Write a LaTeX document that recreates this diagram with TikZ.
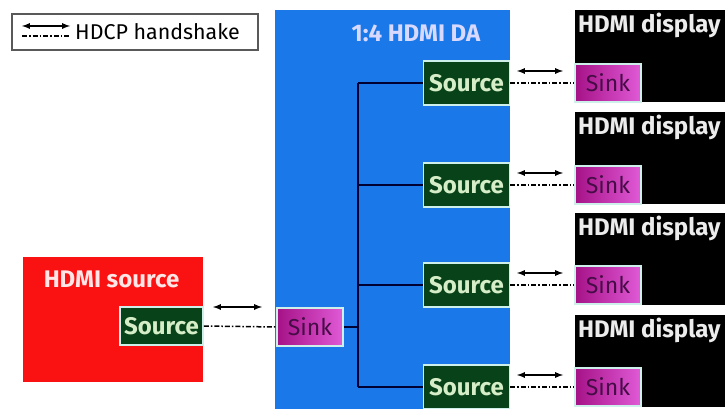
\documentclass[tikz,border=0pt]{standalone}
\usepackage{fontspec}
\setmainfont{Fira Sans}
\usetikzlibrary{arrows,positioning}

\definecolor{daBlue}{RGB}{26,120,232}
\definecolor{srcRed}{RGB}{250,18,18}
\definecolor{srcGreen}{RGB}{8,66,24}
\definecolor{srcText}{RGB}{214,238,200}
\definecolor{boxEdge}{RGB}{205,240,235}
\definecolor{sinkDark}{RGB}{165,18,135}
\definecolor{sinkLight}{RGB}{225,90,215}
\definecolor{sinkText}{RGB}{70,12,70}

\tikzset{
  srcbox/.style={draw=boxEdge,line width=1.6pt,fill=srcGreen,text=srcText,
    font=\fontsize{24}{24}\selectfont\bfseries,inner sep=0pt,
    minimum width=86pt,minimum height=44pt},
  sinkbox/.style={draw=boxEdge,line width=1.2pt,left color=sinkDark,right color=sinkLight,
    text=sinkText,font=\fontsize{23}{23}\selectfont,inner sep=0pt,
    minimum width=66pt,minimum height=38pt},
  label/.style={font=\fontsize{24}{24}\selectfont\bfseries,inner sep=0pt},
  handshake/.style={line width=1.5pt,dash pattern=on 5pt off 2pt on 1.5pt off 2pt},
  shakearrow/.style={latex-latex,line width=1.7pt}
}

\begin{document}
\begin{tikzpicture}[x=1pt,y=1pt]
  \useasboundingbox[fill=white] (0,0) rectangle (725,409);

  % legend
  \draw[gray!70!black,line width=1.5pt] (12,359) rectangle (258,395);
  \draw[shakearrow] (22,383) -- (70,383);
  \draw[handshake] (22,373) -- (70,373);
  \node[anchor=base west,inner sep=0pt,font=\fontsize{21.4}{21.4}\selectfont] (legend) at (75,369) {HDCP handshake};

  % source device
  \fill[srcRed] (23,27) rectangle (203,152);
  \node[label,text=white!90!red,anchor=base] (hdmisrc) at (111.5,121) {HDMI source};
  \node[srcbox,minimum width=83pt,minimum height=38pt] (src) at (161.5,83) {Source};

  % distribution amplifier
  \fill[daBlue] (275,0) rectangle (510,399);
  \node[label,text=white!85!blue,anchor=base] (datitle) at (416,367) {1:4 HDMI DA};
  \node[sinkbox] (dasink) at (310,82) {Sink};
  \draw[handshake] (src.east) -- (dasink.west);
  \draw[shakearrow] (213,102) -- (262,102);
  \coordinate (trunk) at (358,82);
  \draw[black!80!blue,line width=1.4pt] (dasink.east) -- (trunk);

  % outputs and displays
  \foreach \i/\y/\top in {1/326/399,2/224/297,3/124/196,4/22/94}
  {
    \node[srcbox] (dasrc\i) at (466.5,\y) {Source};
    \fill[black] (575,\top-92) rectangle (725,\top);
    \node[label,text=white!85!gray,anchor=base west] (disp\i) at (578,\top-23) {HDMI display};
    \node[sinkbox] (dispsink\i) at (608,\y) {Sink};
    \draw[handshake] (dasrc\i.east) -- (dispsink\i.west);
    \draw[shakearrow] (517,\y+12) -- (563,\y+12);
    \draw[black!80!blue,line width=1.4pt] (358,\y) -- (dasrc\i.west);
  }
  \draw[black!80!blue,line width=1.4pt] (358,326) -- (358,22);
\end{tikzpicture}
\end{document}
